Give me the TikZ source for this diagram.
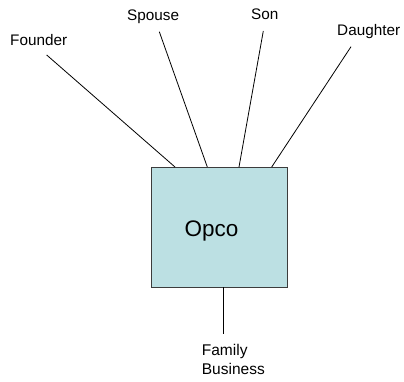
\documentclass[tikz,border=0pt]{standalone}
\usepackage{fontspec}
\setmainfont{Liberation Sans}
\definecolor{boxfill}{RGB}{188,224,227}
\definecolor{boxline}{RGB}{60,60,60}
\begin{document}
\begin{tikzpicture}[x=1pt,y=-1pt,
  lbl/.style={inner sep=0pt,anchor=base west,font=\fontsize{15.3}{19}\selectfont},
  conn/.style={line width=0.8pt,black},
  opcobox/.style={draw=boxline,fill=boxfill,line width=0.9pt}]
\useasboundingbox (0,0) rectangle (404,381);
\fill[white] (0,0) rectangle (404,381);
% box
\draw[opcobox] (151,167) rectangle (287,287);
\node[inner sep=0pt,font=\fontsize{22.5}{27}\selectfont,anchor=base west] (opco) at (184.5,236) {Opco};
\coordinate (box) at (219,227);
% labels
\node[lbl] (founder) at (10,45) {Founder};
\node[lbl] (spouse) at (127,20) {Spouse};
\node[lbl] (son) at (251,19) {Son};
\node[lbl] (daughter) at (337,35) {Daughter};
\node[inner sep=0pt,anchor=north west,align=left,font=\fontsize{15.5}{18.5}\selectfont] (family) at (201.7,344.5) {Family\\Business};
% connector end points
\coordinate (fA) at (46.7,55);   \coordinate (fB) at (175,167);
\coordinate (sA) at (159.3,31.7); \coordinate (sB) at (207.3,167);
\coordinate (nA) at (263.3,31);  \coordinate (nB) at (239,167);
\coordinate (dA) at (351,46.7);  \coordinate (dB) at (271.7,167);
\coordinate (bA) at (223,287);   \coordinate (bB) at (223,334);
\draw[conn] (fA) -- (fB);
\draw[conn] (sA) -- (sB);
\draw[conn] (nA) -- (nB);
\draw[conn] (dA) -- (dB);
\draw[conn] (bA) -- (bB);
\end{tikzpicture}
\end{document}
